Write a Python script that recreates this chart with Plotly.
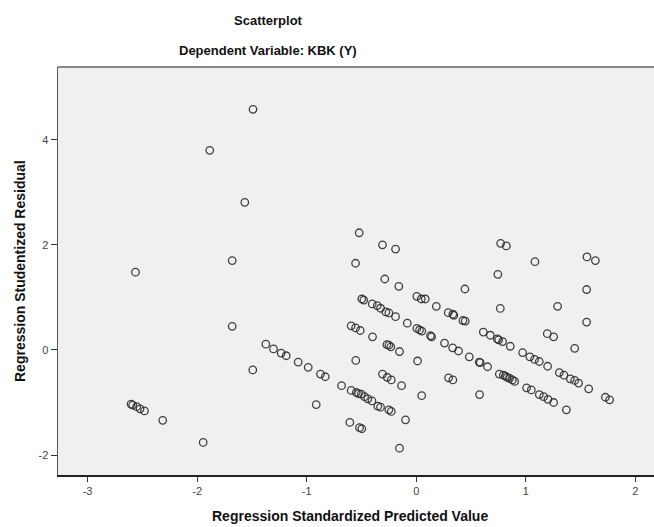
import plotly.graph_objects as go

title_text = "Scatterplot"
subtitle_text = "Dependent Variable: KBK (Y)"
x_title = "Regression Standardized Predicted Value"
y_title = "Regression Studentized Residual"
x_ticks = [-3, -2, -1, 0, 1, 2]
y_ticks = [-2, 0, 2, 4]

pred = [
    -2.563, -1.49, -1.885, -1.565, -1.68, -1.68, -1.492,
    -2.603, -2.588, -2.552, -2.521, -2.481, -2.314, -1.945,
    -1.373, -1.303, -1.233, -1.187, -1.078, -0.986, -0.874, -0.831, -0.682, -0.594,
    -0.548, -0.527, -0.502, -0.472, -0.442, -0.405, -0.351, -0.326, -0.250, -0.228,
    -0.913, -0.606, -0.518, -0.497, -0.098, -0.153,
    -0.521, -0.308, -0.189, -0.554, -0.287, -0.159,
    0.005, 0.046, 0.082, -0.497, -0.479,
    -0.402, -0.356, -0.326, -0.278, -0.250, -0.189, -0.082,
    0.005, 0.030, 0.051, 0.130, 0.140,
    -0.594, -0.554, -0.511, -0.399, -0.268, -0.250, -0.232, -0.153,
    -0.552, 0.012, -0.308, -0.265, -0.228, -0.134, 0.050,
    0.770, 0.822, 1.083, 1.558, 1.635, 0.745, 0.444, 1.555,
    0.183, 0.767, 1.290, 0.292, 0.334, 0.343, 0.426, 0.447, 1.555,
    0.612, 0.676, 0.740, 0.752, 0.788, 0.858, 1.196, 1.254, 1.446,
    0.258, 0.332, 0.386, 0.484, 0.575, 0.584, 0.651,
    0.971, 1.037, 1.080, 1.123, 1.199,
    1.306, 1.348, 1.406, 1.446, 1.482, 1.574, 1.726, 1.765,
    0.295, 0.334, 0.578,
    0.758, 0.795, 0.813, 0.831, 0.852, 0.877, 0.898,
    1.007, 1.050, 1.123, 1.163, 1.202, 1.254, 1.370,
]
resid = [
    1.48, 4.58, 3.80, 2.81, 1.70, 0.45, -0.38,
    -1.03, -1.05, -1.08, -1.12, -1.16, -1.34, -1.76,
    0.11, 0.02, -0.06, -0.11, -0.23, -0.33, -0.46, -0.51, -0.68, -0.77,
    -0.81, -0.83, -0.84, -0.89, -0.93, -0.97, -1.07, -1.09, -1.14, -1.17,
    -1.04, -1.38, -1.48, -1.50, -1.33, -1.87,
    2.23, 2.00, 1.92, 1.65, 1.35, 1.21,
    1.02, 0.97, 0.97, 0.97, 0.95,
    0.876, 0.844, 0.794, 0.724, 0.705, 0.634, 0.51,
    0.41, 0.38, 0.36, 0.27, 0.25,
    0.46, 0.42, 0.37, 0.25, 0.10, 0.09, 0.06, -0.03,
    -0.20, -0.21, -0.46, -0.52, -0.57, -0.68, -0.87,
    2.03, 1.98, 1.68, 1.77, 1.70, 1.44, 1.16, 1.15,
    0.83, 0.79, 0.83, 0.71, 0.68, 0.66, 0.56, 0.55, 0.53,
    0.34, 0.28, 0.21, 0.19, 0.16, 0.07, 0.31, 0.25, 0.03,
    0.13, 0.04, -0.02, -0.13, -0.23, -0.24, -0.32,
    -0.05, -0.13, -0.18, -0.22, -0.31,
    -0.43, -0.48, -0.55, -0.58, -0.63, -0.74, -0.90, -0.95,
    -0.53, -0.57, -0.85,
    -0.46, -0.48, -0.50, -0.52, -0.54, -0.57, -0.60,
    -0.72, -0.76, -0.85, -0.89, -0.94, -1.00, -1.14,
]

W, H = 654, 527
L, R, T, B = 58, 0, 67, 52
pw = W - L - R
ph = H - T - B

def px_x(px):
    return (px - L) / pw

def px_y(py):
    return (H - B - py) / ph

fig = go.Figure()
fig.add_trace(go.Scatter(
    x=pred, y=resid, mode="markers",
    marker=dict(symbol="circle-open", size=7.5, color="rgba(45,45,45,0.9)",
                line=dict(width=1.3, color="rgba(45,45,45,0.9)")),
    showlegend=False, hoverinfo="skip",
))

font = "Liberation Sans, Arial, sans-serif"
fig.update_layout(
    width=W, height=H,
    margin=dict(l=L, r=R, t=T, b=B, pad=0),
    paper_bgcolor="white",
    plot_bgcolor="#f0f0f0",
    hovermode=False,
    font=dict(family=font, color="#222"),
    xaxis=dict(
        range=[-3.27, 2.17], tickvals=x_ticks, ticktext=[str(v) for v in x_ticks],
        showgrid=False, zeroline=False, showline=True, linecolor="#222", linewidth=1.5,
        ticks="outside", ticklen=5, tickwidth=1, tickcolor="#333",
        tickfont=dict(size=11, color="#444", family=font), fixedrange=True,
    ),
    yaxis=dict(
        range=[-2.38, 5.385], tickvals=y_ticks, ticktext=[str(v) for v in y_ticks],
        showgrid=False, zeroline=False, showline=True, linecolor="#555", linewidth=1.5,
        ticks="outside", ticklen=6, tickwidth=1, tickcolor="#333",
        tickfont=dict(size=11, color="#444", family=font), fixedrange=True,
    ),
    shapes=[dict(type="line", xref="paper", yref="paper", x0=0, x1=1, y0=1, y1=1,
                 line=dict(color="#888", width=2))],
    annotations=[
        dict(text="<b>" + title_text + "</b>", xref="paper", yref="paper",
             x=px_x(268), y=px_y(21), showarrow=False, xanchor="center", yanchor="middle",
             font=dict(size=13, family=font, color="#111")),
        dict(text="<b>" + subtitle_text + "</b>", xref="paper", yref="paper",
             x=px_x(268), y=px_y(51), showarrow=False, xanchor="center", yanchor="middle",
             font=dict(size=13, family=font, color="#111")),
        dict(text="<b>" + x_title + "</b>", xref="paper", yref="paper",
             x=px_x(350), y=px_y(516), showarrow=False, xanchor="center", yanchor="middle",
             font=dict(size=14, family=font, color="#111")),
        dict(text="<b>" + y_title + "</b>", xref="paper", yref="paper",
             x=px_x(20), y=px_y(271), showarrow=False, xanchor="center", yanchor="middle",
             textangle=-90, font=dict(size=14, family=font, color="#111")),
    ],
)

fig.write_html(
    "out.html",
    config={"displayModeBar": False, "staticPlot": True},
    post_script="document.body.style.margin='0px';document.body.style.overflow='hidden';",
)
